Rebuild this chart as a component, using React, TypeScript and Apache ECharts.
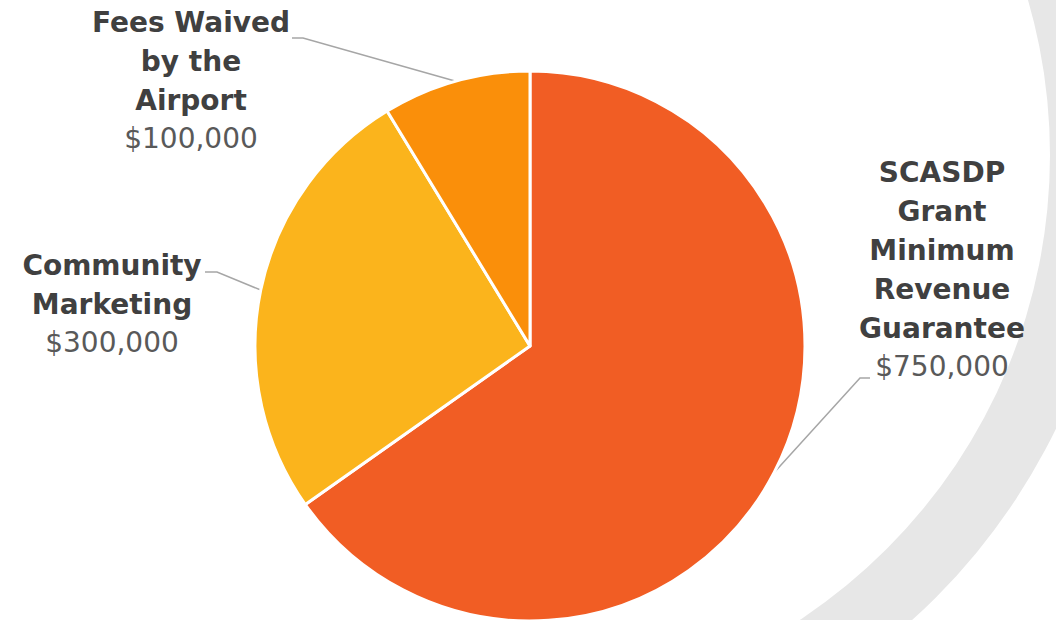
import React, { useEffect, useRef } from "react";
import * as echarts from "echarts";

const categories = [
  "SCASDP\nGrant\nMinimum\nRevenue\nGuarantee",
  "Community\nMarketing",
  "Fees Waived\nby the\nAirport",
];
const values = [750000, 300000, 100000];
const colors = ["#F15D24", "#FBB41C", "#FA8F0A"];

// label anchor (text block center-x, top-y) and elbow of leader line
const labelPlaces = [
  { x: 942, y: 153, elbow: [860, 378], end: [870, 378] },
  { x: 112, y: 246, elbow: [217, 272], end: [205, 272] },
  { x: 191, y: 3, elbow: [303, 38], end: [292, 38] },
];

const fmt = (v: number) => "$" + v.toLocaleString("en-US");

export default function App() {
  const ref = useRef<HTMLDivElement>(null);
  useEffect(() => {
    if (!ref.current) return;
    const chart = echarts.init(ref.current, undefined, { renderer: "svg" });
    chart.setOption({
      animation: false,
      backgroundColor: "#ffffff",
      graphic: [
        {
          type: "sector",
          z: -10,
          silent: true,
          shape: {
            cx: 493,
            cy: 155,
            r: 626,
            r0: 557,
            startAngle: -Math.PI / 2,
            endAngle: Math.PI / 2,
            clockwise: true,
          },
          style: { fill: "#E7E7E7" },
        },
      ],
      series: [
        {
          type: "pie",
          center: [530, 346],
          radius: [0, 275],
          startAngle: 90,
          clockwise: true,
          avoidLabelOverlap: false,
          itemStyle: { borderColor: "#ffffff", borderWidth: 3 },
          data: categories.map((name, i) => ({
            name,
            value: values[i],
            itemStyle: { color: colors[i] },
          })),
          label: {
            show: true,
            position: "outside",
            fontFamily: "DejaVu Sans",
            formatter: (p: any) =>
              String(p.name)
                .split("\n")
                .map((l: string) => `{b|${l}}`)
                .join("\n") + `\n{v|${fmt(p.value)}}`,
            rich: {
              b: {
                fontFamily: "DejaVu Sans",
                fontWeight: "bold",
                fontSize: 28,
                lineHeight: 39,
                color: "#404040",
                align: "center",
              },
              v: {
                fontFamily: "DejaVu Sans",
                fontWeight: "normal",
                fontSize: 28,
                lineHeight: 37,
                color: "#595959",
                align: "center",
              },
            },
          },
          labelLine: {
            show: true,
            lineStyle: { color: "#A6A6A6", width: 1.5 },
          },
          labelLayout: (params: any) => {
            const lp = labelPlaces[params.dataIndex];
            const start = params.labelLinePoints
              ? params.labelLinePoints[0]
              : lp.elbow;
            return {
              x: lp.x,
              y: lp.y,
              align: "center",
              verticalAlign: "top",
              labelLinePoints: [start, lp.elbow, lp.end],
            };
          },
        },
      ],
    });
    return () => chart.dispose();
  }, []);
  return (
    <div
      ref={ref}
      style={{
        position: "fixed",
        left: 0,
        top: 0,
        width: 1056,
        height: 620,
        overflow: "hidden",
      }}
    />
  );
}
